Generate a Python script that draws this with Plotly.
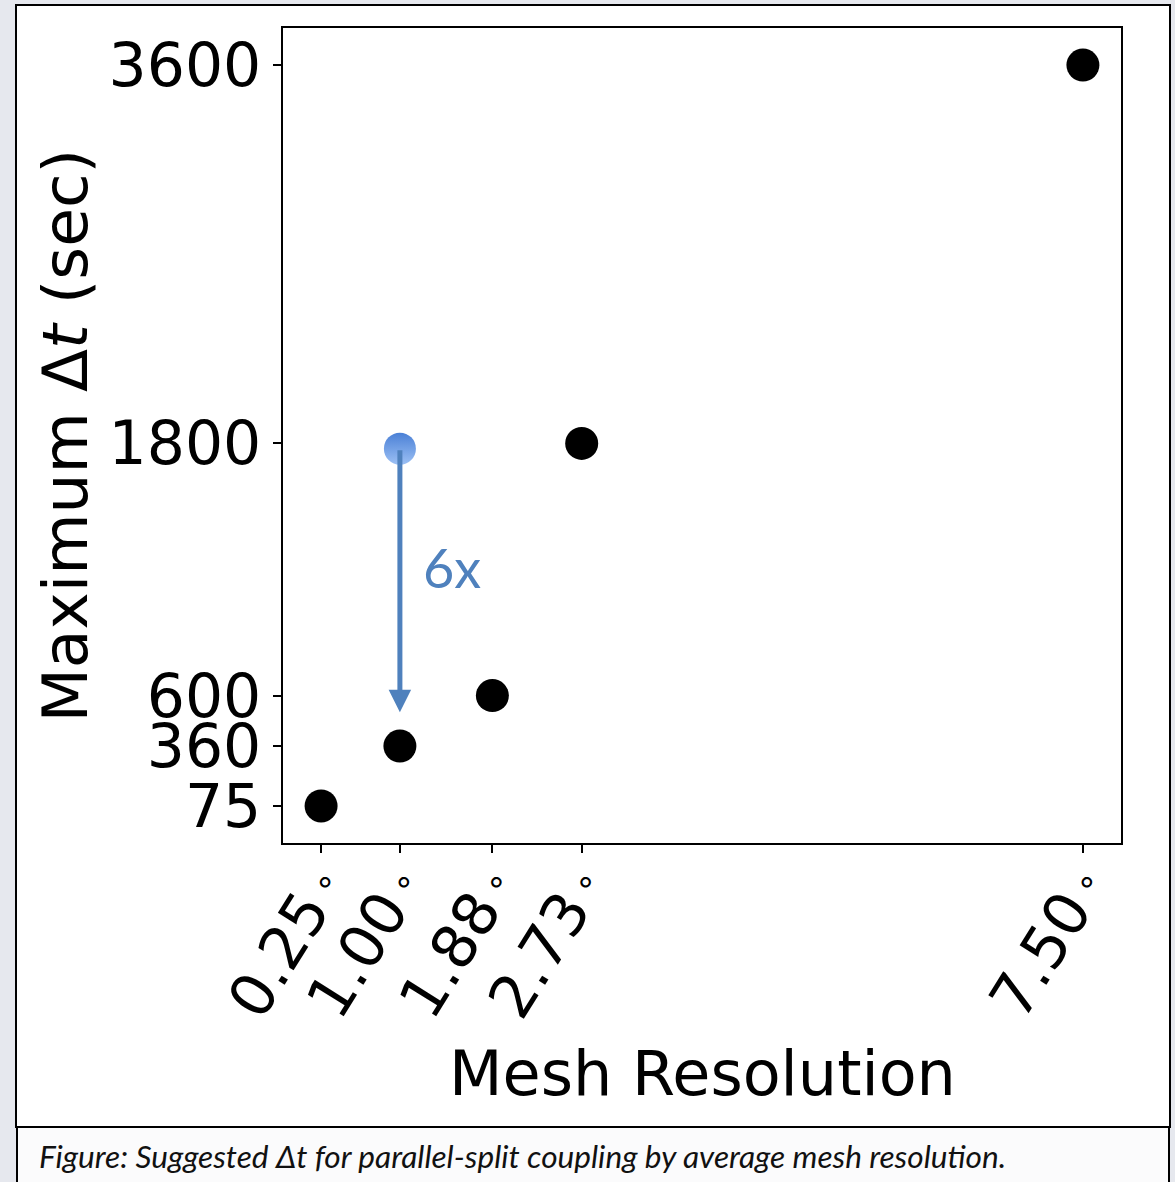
"""
Suggested maximum time step by average mesh resolution (slide figure).
"""

import plotly.graph_objects as go

# data
mesh_res = [0.25, 1.00, 1.88, 2.73, 7.50]
max_dt = [75, 360, 600, 1800, 3600]
x_tick_labels = ["0.25", "1.00", "1.88", "2.73", "7.50"]
y_ticks = [75, 360, 600, 1800, 3600]

# highlighted point and 6x arrow
hl_x = [1.00]
hl_y = [1775]
arrow_tip_y = 521
label_6x = "6x"
label_pos = (1.50, 1210)

CAPTION = "Figure: Suggested Δt for parallel-split coupling by average mesh resolution."

W, H = 1175, 1182
L, R, T, B = 283, 54, 28, 339
PW, PH = W - L - R, H - T - B


def px_x(px):
    return (px - L) / PW


def px_y(py):
    return (H - B - py) / PH


fig = go.Figure()

fig.add_trace(
    go.Scatter(
        x=mesh_res,
        y=max_dt,
        mode="markers",
        marker=dict(size=33, color="black", line=dict(width=0)),
        showlegend=False,
        hoverinfo="skip",
    )
)

fig.add_trace(
    go.Scatter(
        x=hl_x,
        y=hl_y,
        mode="markers",
        marker=dict(
            size=32,
            color="#4a80d6",
            gradient=dict(type="vertical", color="#9cc0f4"),
            line=dict(width=0),
        ),
        showlegend=False,
        hoverinfo="skip",
    )
)

# arrow from highlighted point down to the 1.00 level
fig.add_annotation(
    x=hl_x[0], y=arrow_tip_y, ax=hl_x[0], ay=hl_y[0],
    xref="x", yref="y", axref="x", ayref="y",
    text="", showarrow=True,
    arrowhead=2, arrowsize=0.9, arrowwidth=5, arrowcolor="#4f81bd",
)
fig.add_annotation(
    x=label_pos[0], y=label_pos[1], xref="x", yref="y",
    text=label_6x, showarrow=False,
    font=dict(family="Lato", size=54, color="#4f81bd"),
)

# axis titles
fig.add_annotation(
    x=0.5, y=px_y(1073), xref="paper", yref="paper",
    xanchor="center", yanchor="middle", showarrow=False,
    text="Mesh Resolution",
    font=dict(family="DejaVu Sans", size=62, color="black"),
)
fig.add_annotation(
    x=px_x(65), y=0.5, xref="paper", yref="paper",
    xanchor="center", yanchor="middle", showarrow=False, textangle=-90,
    text="Maximum Δ<i>t</i> (sec)",
    font=dict(family="DejaVu Sans", size=63, color="black"),
)

# outer white frame and caption box
fig.add_shape(
    type="rect", xref="paper", yref="paper", layer="below",
    x0=px_x(16), x1=px_x(1170), y0=px_y(1127), y1=px_y(5),
    fillcolor="white", line=dict(color="black", width=2),
)
fig.add_shape(
    type="rect", xref="paper", yref="paper", layer="below",
    x0=px_x(17), x1=px_x(1169), y0=px_y(1190), y1=px_y(1127),
    fillcolor="#fbfbfc", line=dict(color="black", width=2),
)
fig.add_annotation(
    x=px_x(37), y=px_y(1156), xref="paper", yref="paper",
    xanchor="left", yanchor="middle", showarrow=False,
    text=f"<i>{CAPTION}</i>",
    font=dict(family="Lato", size=31.6, color="#111111"),
)

axis_common = dict(
    showline=True, linecolor="black", linewidth=1.5, mirror=True,
    ticks="outside", ticklen=8, tickwidth=1.5, tickcolor="black",
    showgrid=False, zeroline=False,
    tickfont=dict(family="DejaVu Sans", size=60, color="black"),
    automargin=False,
)

fig.update_layout(
    width=W, height=H,
    margin=dict(l=L, r=R, t=T, b=B, autoexpand=False),
    paper_bgcolor="#e6e8ee",
    plot_bgcolor="white",
    font=dict(family="DejaVu Sans", color="black"),
    xaxis=dict(
        **axis_common,
        range=[-0.1125, 7.8625],
        tickmode="array", tickvals=mesh_res,
        ticktext=[f"{t}<span style='font-size:34px'>&nbsp;°</span>" for t in x_tick_labels],
        tickangle=-58,
        ticklabelstandoff=-25,
    ),
    yaxis=dict(
        **axis_common,
        range=[-101.25, 3776.25],
        tickmode="array", tickvals=y_ticks,
    ),
)

fig.write_html(
    "out.html",
    config={"displayModeBar": False},
    post_script="document.body.style.margin='0';",
)
